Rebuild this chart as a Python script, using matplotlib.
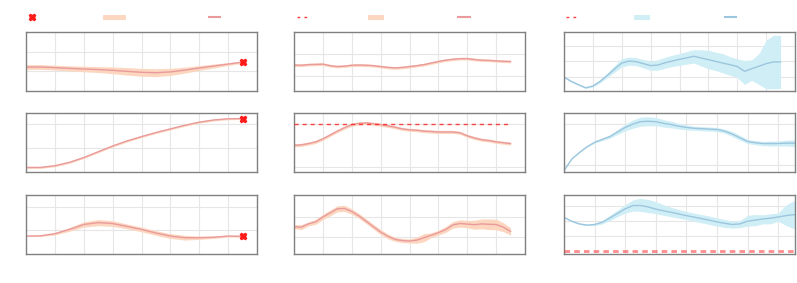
"""Grid of mean +/- band trajectories, three columns of three panels."""

import numpy as np
import matplotlib
matplotlib.use("Agg")
import matplotlib.pyplot as plt
from matplotlib.lines import Line2D

ORANGE_BAND = "#fcd6be"
ORANGE_LINE = "#e99a9c"
BLUE_BAND = "#d0eef6"
BLUE_LINE = "#9cc6de"
TARGET = "#ff1a1a"

# ---- column 1 ----
x_a = [0, 10, 20, 30, 40, 50, 60, 70, 80, 90, 100, 110, 120, 130, 140, 150]
p00_mean = [1.22, 1.22, 1.19, 1.15, 1.12, 1.09, 1.05, 1.00, 0.95, 0.93, 0.97, 1.06, 1.17, 1.27, 1.37, 1.47]
p00_hw = [0.12, 0.12, 0.12, 0.13, 0.14, 0.15, 0.17, 0.19, 0.20, 0.20, 0.18, 0.15, 0.12, 0.10, 0.07, 0.05]
p10_mean = [0.19, 0.19, 0.26, 0.40, 0.60, 0.84, 1.08, 1.29, 1.47, 1.64, 1.79, 1.94, 2.07, 2.16, 2.21, 2.22]
p10_hw = [0.04] * 16
p20_mean = [0.76, 0.77, 0.86, 1.04, 1.25, 1.33, 1.29, 1.17, 1.04, 0.89, 0.76, 0.69, 0.69, 0.71, 0.76, 0.75]
p20_hw = [0.02, 0.03, 0.05, 0.08, 0.11, 0.13, 0.12, 0.10, 0.10, 0.10, 0.10, 0.10, 0.07, 0.05, 0.04, 0.04]

# ---- column 2 ----
x_b = list(range(0, 151, 5))
p01_mean = [0.48, 0.47, 0.50, 0.51, 0.52, 0.45, 0.41, 0.43, 0.47, 0.48, 0.47, 0.45, 0.41, 0.37, 0.35,
            0.37, 0.41, 0.45, 0.50, 0.57, 0.64, 0.70, 0.74, 0.77, 0.77, 0.73, 0.70, 0.69, 0.67, 0.65, 0.64]
p01_hw = [0.06] * 31
p11_mean = [0.50, 0.51, 0.54, 0.58, 0.65, 0.74, 0.83, 0.91, 0.98, 1.01, 1.02, 1.00, 0.98, 0.95, 0.92,
            0.88, 0.86, 0.85, 0.83, 0.82, 0.81, 0.81, 0.81, 0.79, 0.72, 0.67, 0.63, 0.61, 0.58, 0.56, 0.54]
p11_hw = [0.035] * 31
p21_mean = [0.52, 0.50, 0.66, 0.76, 1.00, 1.20, 1.40, 1.42, 1.27, 1.05, 0.79, 0.52, 0.26, 0.05, -0.10,
            -0.16, -0.18, -0.14, -0.02, 0.10, 0.23, 0.38, 0.61, 0.68, 0.65, 0.62, 0.66, 0.64, 0.63, 0.50, 0.29]
p21_hw = [0.10, 0.12, 0.10, 0.12, 0.13, 0.14, 0.15, 0.15, 0.13, 0.12, 0.12, 0.12, 0.12, 0.12, 0.10,
          0.10, 0.10, 0.15, 0.20, 0.12, 0.12, 0.14, 0.16, 0.18, 0.18, 0.22, 0.24, 0.26, 0.26, 0.22, 0.18]
target_b = 1.0

# ---- column 3 ----
p02_mean = [-0.02, -0.30, -0.52, -0.72, -0.61, -0.30, 0.09, 0.50, 0.89, 1.02, 0.98, 0.85, 0.72, 0.76, 0.91,
            1.02, 1.13, 1.23, 1.33, 1.22, 1.11, 1.00, 0.89, 0.78, 0.67, 0.35, 0.52, 0.68, 0.85, 0.96, 0.96]
p02_lo = [-0.07, -0.35, -0.57, -0.77, -0.67, -0.40, -0.06, 0.30, 0.63, 0.75, 0.72, 0.57, 0.42, 0.42, 0.55,
          0.66, 0.74, 0.82, 0.89, 0.70, 0.52, 0.40, 0.25, 0.10, -0.05, -0.50, -0.24, -0.50, -0.78, -0.78, -0.78]
p02_hi = [0.03, -0.25, -0.47, -0.67, -0.55, -0.20, 0.24, 0.72, 1.17, 1.28, 1.24, 1.12, 1.02, 1.10, 1.27,
          1.40, 1.51, 1.64, 1.76, 1.75, 1.72, 1.60, 1.50, 1.30, 1.17, 1.06, 1.10, 1.50, 2.37, 2.70, 2.70]

x_c = list(range(0, 151, 5)) + [151]
p12_mean = [-0.13, 0.15, 0.31, 0.45, 0.56, 0.63, 0.70, 0.81, 0.92, 1.00, 1.06, 1.07, 1.06, 1.02, 0.99, 0.95,
            0.92, 0.90, 0.89, 0.88, 0.87, 0.83, 0.76, 0.67, 0.58, 0.55, 0.53, 0.53, 0.53, 0.54, 0.54, 0.54]
p12_hw = [0.0, 0.005, 0.01, 0.01, 0.02, 0.03, 0.04, 0.06, 0.08, 0.10, 0.11, 0.11, 0.10, 0.09, 0.08, 0.07,
          0.06, 0.05, 0.05, 0.05, 0.05, 0.05, 0.06, 0.06, 0.05, 0.05, 0.05, 0.06, 0.06, 0.07, 0.08, 0.08]
p22_mean = [1.24, 0.98, 0.80, 0.72, 0.76, 0.91, 1.20, 1.50, 1.80, 2.02, 2.02, 1.93, 1.78, 1.67, 1.57, 1.46,
            1.35, 1.25, 1.15, 1.05, 0.93, 0.84, 0.76, 0.80, 0.98, 1.05, 1.13, 1.18, 1.26, 1.35, 1.41, 1.41]
p22_lo = [1.19, 0.94, 0.76, 0.68, 0.70, 0.80, 1.03, 1.28, 1.52, 1.65, 1.63, 1.55, 1.48, 1.37, 1.28, 1.18,
          1.09, 0.97, 0.87, 0.76, 0.65, 0.57, 0.52, 0.55, 0.65, 0.68, 0.80, 0.80, 0.98, 0.70, 0.50, 0.50]
p22_hi = [1.29, 1.02, 0.84, 0.76, 0.82, 1.02, 1.37, 1.72, 2.08, 2.40, 2.50, 2.42, 2.28, 2.08, 1.90, 1.76,
          1.63, 1.52, 1.42, 1.32, 1.20, 1.10, 0.98, 1.02, 1.37, 1.42, 1.40, 1.47, 1.52, 2.05, 2.33, 2.33]
target_c = -1.0

fig = plt.figure(figsize=(7.97, 2.83), dpi=100)
W, H = 797, 283
lefts = [26, 294, 564]
tops = [32, 113, 195]
aw, ah = 231, 59
FS = 8  # legend font size, sets handle length units
UNIT = FS * 100 / 72


def make_ax(col, row):
    ax = fig.add_axes([lefts[col] / W, 1 - (tops[row] + ah) / H, aw / W, ah / H])
    ax.grid(True, color="#e6e6e6", lw=0.8)
    ax.set_axisbelow(True)
    ax.tick_params(length=0, labelbottom=False, labelleft=False)
    for s in ax.spines.values():
        s.set_color("#808080")
        s.set_linewidth(1.0)
    ax.set_xticks(range(0, 161, 20))
    return ax


def band(ax, x, mean, lo, hi, line_c, band_c):
    ax.fill_between(x, lo, hi, color=band_c, lw=0)
    ax.plot(x, mean, color=line_c, lw=1.0)


def sym(mean, hw):
    m, h = np.array(mean), np.array(hw)
    return m - h, m + h


# column 1
specs_a = [(p00_mean, p00_hw, (0, 3), [1, 2]),
           (p10_mean, p10_hw, (0, 2.45), [1, 2]),
           (p20_mean, p20_hw, (0, 2.5), [1, 2])]
axes_a = []
for row, (m, hw, yl, yt) in enumerate(specs_a):
    ax = make_ax(0, row)
    lo, hi = sym(m, hw)
    band(ax, x_a, m, lo, hi, ORANGE_LINE, ORANGE_BAND)
    ax.plot(x_a[-1], m[-1], marker="X", ms=5, color=TARGET, ls="none", zorder=5)
    ax.set_xlim(0, 160)
    ax.set_ylim(*yl)
    ax.set_yticks(yt)
    axes_a.append(ax)

# column 2
specs_b = [(p01_mean, p01_hw, (-0.70, 1.98), [0, 1]),
           (p11_mean, p11_hw, (-0.12, 1.25), [0, 1]),
           (p21_mean, p21_hw, (-0.82, 2.08), [0, 1])]
axes_b = []
for row, (m, hw, yl, yt) in enumerate(specs_b):
    ax = make_ax(1, row)
    lo, hi = sym(m, hw)
    band(ax, x_b, m, lo, hi, ORANGE_LINE, ORANGE_BAND)
    ax.set_xlim(0, 160)
    ax.set_ylim(*yl)
    ax.set_yticks(yt)
    axes_b.append(ax)
axes_b[1].hlines(target_b, x_b[0], x_b[-1], color=TARGET, lw=1.0, ls=(0, (3, 2.8)), alpha=0.8, zorder=4)

# column 3
ax = make_ax(2, 0)
band(ax, x_b, p02_mean, p02_lo, p02_hi, BLUE_LINE, BLUE_BAND)
ax.set_xlim(0, 160)
ax.set_ylim(-0.93, 2.91)
ax.set_yticks([0, 1, 2])
ax_c0 = ax

ax = make_ax(2, 1)
lo, hi = sym(p12_mean, p12_hw)
band(ax, x_c, p12_mean, lo, hi, BLUE_LINE, BLUE_BAND)
ax.set_xlim(0, 151)
ax.set_ylim(-0.16, 1.27)
ax.set_yticks([0, 1])

ax = make_ax(2, 2)
band(ax, x_c, p22_mean, p22_lo, p22_hi, BLUE_LINE, BLUE_BAND)
ax.hlines(target_c, x_c[0], x_c[-1], color=TARGET, lw=2.0, ls=(0, (2, 1.5)), alpha=0.5, zorder=4)
ax.set_xlim(0, 151)
ax.set_ylim(-1.20, 2.72)
ax.set_yticks([0, 1, 2])


# legend entries above the top row (labels blank, as in the reference);
# each entry: (handle, left offset px from axes left, handle length px)
def add_legends(ax, entries):
    for i, (h, off, length) in enumerate(entries):
        leg = ax.legend([h], [""], frameon=False, loc="center left",
                        bbox_to_anchor=(off / aw, 1 + 14 / ah), borderpad=0, borderaxespad=0,
                        handlelength=length / UNIT, handletextpad=0, fontsize=FS)
        if i < len(entries) - 1:
            ax.add_artist(leg)


def dashed():
    # dash pattern in points: ~3px dash, ~4px gap
    return Line2D([], [], color=TARGET, lw=1.0, ls=(0, (2, 3)), alpha=0.85)


add_legends(axes_a[0], [
    (Line2D([], [], marker="X", ms=5, color=TARGET, ls="none"), 0, 11),
    (Line2D([], [], color=ORANGE_BAND, lw=3.5), 79, 18),
    (Line2D([], [], color=ORANGE_LINE, lw=1.5), 183, 11),
])
add_legends(axes_b[0], [
    (dashed(), 3, 10),
    (Line2D([], [], color=ORANGE_BAND, lw=3.5), 76, 11),
    (Line2D([], [], color=ORANGE_LINE, lw=1.5), 164, 12),
])
add_legends(ax_c0, [
    (dashed(), 2, 10),
    (Line2D([], [], color=BLUE_BAND, lw=3.5), 72, 11),
    (Line2D([], [], color=BLUE_LINE, lw=1.5), 161, 11),
])

fig.savefig("out.png", dpi=100)
